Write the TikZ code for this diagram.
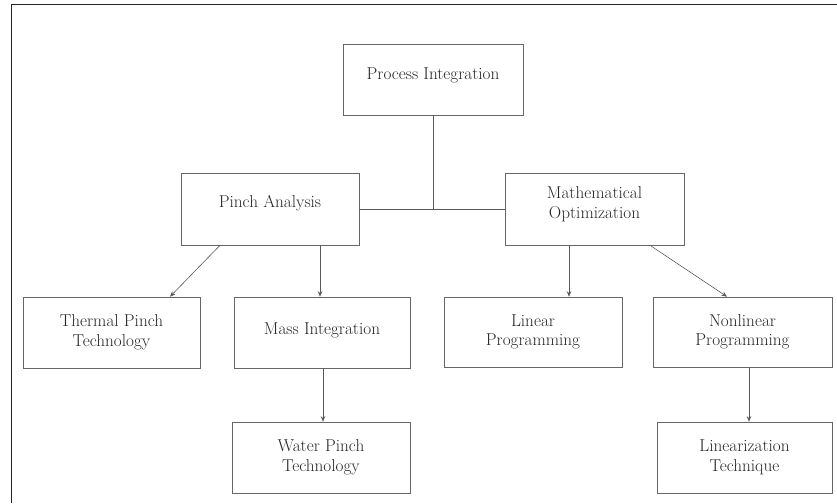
\documentclass[tikz,border=0pt]{standalone}
\usetikzlibrary{arrows.meta}
\begin{document}
\begin{tikzpicture}[x=1pt,y=-1pt,
  box/.style={draw=black!60, line width=0.6pt, inner sep=0pt, align=center,
    text=black!85, font=\rmfamily\fontsize{17.2}{19.5}\selectfont},
  conn/.style={draw=black!65, line width=0.6pt},
  arr/.style={conn, -{Stealth[length=5.5pt,width=4.5pt]}},
  frame/.style={draw=black!85, line width=1pt}]
\useasboundingbox (0,0) rectangle (837,503);
% outer frame
\coordinate (ftr) at (837,5);
\coordinate (ftl) at (11,5);
\coordinate (fbl) at (11,503);
\draw[frame] (ftr) -- (ftl) -- (fbl);
% boxes
\node[box, minimum width=180pt, minimum height=71pt, text depth=11pt] (pi) at (433,79.5) {Process Integration};
\node[box, minimum width=178pt, minimum height=72pt, text depth=16pt] (pa) at (270,209) {Pinch Analysis};
\node[box, minimum width=179pt, minimum height=72pt, text depth=13pt] (mo) at (594.5,209) {Mathematical\\Optimization};
\node[box, minimum width=177pt, minimum height=71pt] (tp) at (111.5,332.5) {Thermal Pinch\\Technology};
\node[box, minimum width=176pt, minimum height=71pt, text depth=8pt] (mi) at (322,332.5) {Mass Integration};
\node[box, minimum width=178pt, minimum height=71pt] (wp) at (321,457.5) {Water Pinch\\Technology};
\node[box, minimum width=178pt, minimum height=70pt] (lp) at (533,332) {Linear\\Programming};
\node[box, minimum width=179pt, minimum height=70pt] (np) at (742.5,332) {Nonlinear\\Programming};
\node[box, minimum width=175pt, minimum height=71pt] (lt) at (744.5,457.5) {Linearization\\Technique};
% connectors
\draw[conn] (pi.south) -- (pi.south |- pa.east);
\draw[conn] (pa.east) -- (mo.west);
\draw[arr] ([xshift=-50pt]pa.south) -- ([xshift=58.5pt]tp.north);
\draw[arr] ([xshift=50pt]pa.south) -- ([xshift=50pt]pa.south |- mi.north);
\draw[arr] ([xshift=1pt]mi.south) -- ([xshift=1pt]mi.south |- wp.north);
\draw[arr] ([xshift=-25.5pt]mo.south) -- ([xshift=-25.5pt]mo.south |- lp.north);
\draw[arr] ([xshift=55.5pt]mo.south) -- ([xshift=-15.5pt]np.north);
\draw[arr] ([xshift=6.5pt]np.south) -- ([xshift=6.5pt]np.south |- lt.north);
\end{tikzpicture}
\end{document}
